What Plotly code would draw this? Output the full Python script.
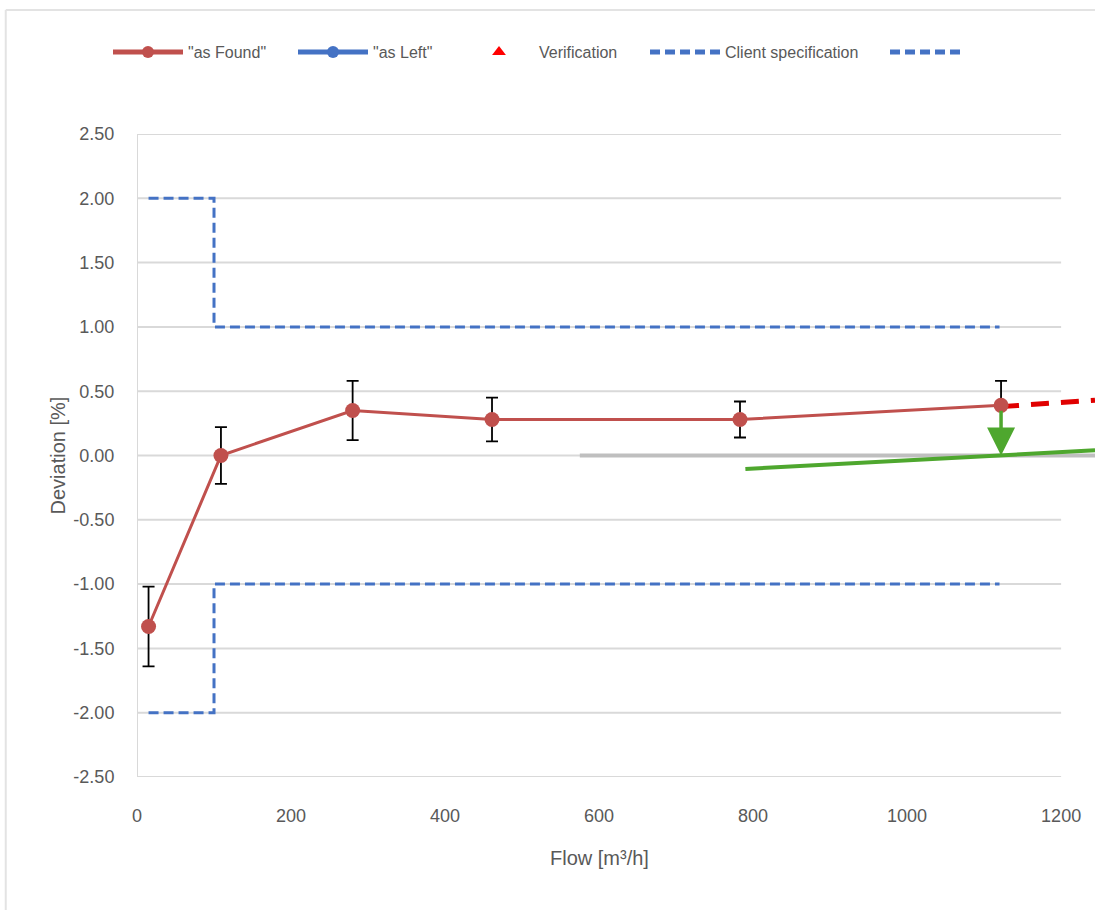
import plotly.graph_objects as go

# ---- data ----
flow = [15, 109, 280, 461, 783, 1122]
dev_found = [-1.33, 0.00, 0.35, 0.28, 0.28, 0.39]
err_found = [0.31, 0.22, 0.23, 0.17, 0.14, 0.19]

spec_x = [15, 100, 100, 1120]
spec_upper = [2.0, 2.0, 1.0, 1.0]
spec_lower = [-2.0, -2.0, -1.0, -1.0]

red_trend_x = [1122, 1244]
red_trend_y = [0.38, 0.43]

green_x = [790, 1244]
green_y = [-0.105, 0.04]

gray_x = [575, 1244]
gray_y = [0.0, 0.0]

arrow_x = [1122, 1122]   # tail, head
arrow_y = [0.36, 0.0]

xticks = [0, 200, 400, 600, 800, 1000, 1200]
yticks = [2.5, 2.0, 1.5, 1.0, 0.5, 0.0, -0.5, -1.0, -1.5, -2.0, -2.5]
ytick_text = [f"{v:.2f}" for v in yticks]

FONT = "Liberation Sans, Arial, sans-serif"
TXT = "#595959"
GRID = "#D9D9D9"
RED = "#C0504D"
BLUE = "#4472C4"

fig = go.Figure()

# gray zero trend
fig.add_trace(go.Scatter(x=gray_x, y=gray_y, mode="lines",
                         line=dict(color="#BFBFBF", width=4), showlegend=False, hoverinfo="skip"))

# spec lines
fig.add_trace(go.Scatter(x=spec_x, y=spec_upper, mode="lines", name="Client specification",
                         line=dict(color=BLUE, width=3, dash="10px,5px"), legend="legend4"))
fig.add_trace(go.Scatter(x=spec_x, y=spec_lower, mode="lines", name=" ",
                         line=dict(color=BLUE, width=3, dash="10px,5px"), legend="legend5"))

# green line
fig.add_trace(go.Scatter(x=green_x, y=green_y, mode="lines",
                         line=dict(color="#4EA72E", width=4), showlegend=False))

# red dashed trend
fig.add_trace(go.Scatter(x=red_trend_x, y=red_trend_y, mode="lines",
                         line=dict(color="#E00000", width=5, dash="18px,12px"), showlegend=False))

# as found
fig.add_trace(go.Scatter(x=flow, y=dev_found, mode="lines+markers", name="\"as Found\"",
                         line=dict(color=RED, width=3),
                         marker=dict(color=RED, size=15),
                         error_y=dict(type="data", array=err_found, color="black", thickness=1.8, width=6),
                         legend="legend"))

# as left (no data)
fig.add_trace(go.Scatter(x=[None], y=[None], mode="lines+markers", name="\"as Left\"",
                         line=dict(color=BLUE, width=3), marker=dict(color=BLUE, size=11),
                         legend="legend2"))

# verification (no data)
fig.add_trace(go.Scatter(x=[None], y=[None], mode="markers", name="Verification",
                         marker=dict(color="#FF0000", symbol="triangle-up", size=11),
                         legend="legend3"))

shapes = []
# horizontal gridlines from 0 to 1200
for v in yticks:
    shapes.append(dict(type="line", xref="x", yref="y", x0=xticks[0], x1=xticks[-1], y0=v, y1=v,
                       line=dict(color=GRID, width=2), layer="below"))
# y axis line
shapes.append(dict(type="line", xref="x", yref="y", x0=0, x1=0, y0=yticks[-1], y1=yticks[0],
                   line=dict(color=GRID, width=2), layer="below"))
# outer frame (screenshot border)
shapes.append(dict(type="line", xref="paper", yref="paper", x0=-0.137, x1=1.0, y0=1.193, y1=1.193,
                   line=dict(color="#E3E3E3", width=2)))
shapes.append(dict(type="line", xref="paper", yref="paper", x0=-0.137, x1=-0.137, y0=1.193, y1=-0.21,
                   line=dict(color="#E3E3E3", width=2)))

annotations = [
    dict(x=arrow_x[1], y=arrow_y[1], ax=arrow_x[0], ay=arrow_y[0], xref="x", yref="y",
         axref="x", ayref="y", showarrow=True, arrowhead=2, arrowsize=1.6, arrowwidth=3.5,
         arrowcolor="#4EA72E", text=""),
    dict(text="Flow [m³/h]", x=600, y=-0.126, xref="x", yref="paper", showarrow=False,
         xanchor="center", yanchor="middle",
         font=dict(family=FONT, size=20, color=TXT)),
    dict(text="Deviation [%]", x=-0.0835, y=0.5, xref="paper", yref="paper", showarrow=False,
         xanchor="center", yanchor="middle",
         textangle=-90, font=dict(family=FONT, size=20, color=TXT)),
]

def leg(xpx, itemwidth=70, sizing="constant"):
    return dict(x=(xpx - 137) / 958, y=(777 - 52) / 643, xanchor="left", yanchor="middle",
                orientation="h", bgcolor="rgba(0,0,0,0)", itemwidth=itemwidth,
                itemsizing=sizing,
                font=dict(family=FONT, size=16, color=TXT))

fig.update_layout(
    width=1095, height=910,
    margin=dict(l=137, r=0, t=134, b=133),
    paper_bgcolor="white", plot_bgcolor="white",
    font=dict(family=FONT, color=TXT),
    xaxis=dict(range=[0, 1244], tickvals=xticks, showgrid=False, zeroline=False, showline=False,
               ticks="outside", ticklen=22, tickcolor="rgba(0,0,0,0)",
               tickfont=dict(family=FONT, size=18, color=TXT)),
    yaxis=dict(range=[-2.5, 2.5], tickvals=yticks, ticktext=ytick_text, showgrid=False,
               zeroline=False, showline=False, ticks="outside", ticklen=18,
               tickcolor="rgba(0,0,0,0)", tickfont=dict(family=FONT, size=18, color=TXT)),
    shapes=shapes,
    annotations=annotations,
    legend=leg(108),
    legend2=leg(293),
    legend3=leg(459),
    legend4=leg(645),
    legend5=leg(885),
)

fig.write_html("out.html",
               config={"displayModeBar": False},
               post_script="document.body.style.margin='0px';document.body.style.padding='0px';"
                           "document.body.style.overflow='hidden';")
